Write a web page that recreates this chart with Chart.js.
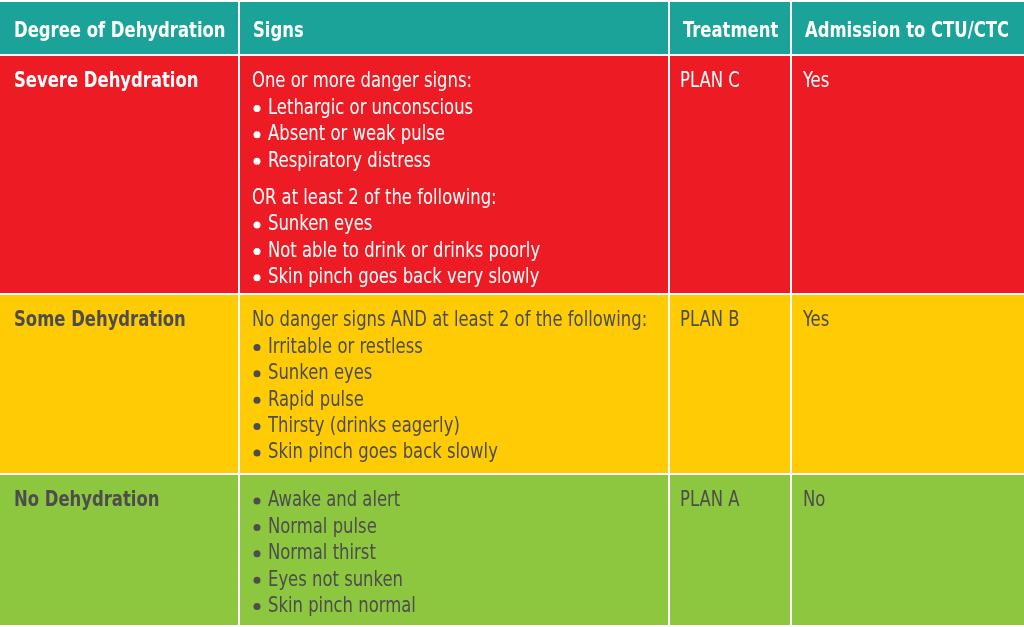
<!DOCTYPE html>
<html>
<head>
<meta charset="utf-8">
<script src="https://cdn.jsdelivr.net/npm/chart.js@4/dist/chart.umd.min.js"></script>
<style>
  html, body { margin: 0; padding: 0; background: #fff; }
  #wrap { width: 1024px; height: 627px; }
</style>
</head>
<body>
<div id="wrap"><canvas id="c" width="1024" height="627"></canvas></div>
<script>
// table content
const headers = ['Degree of Dehydration', 'Signs', 'Treatment', 'Admission to CTU/CTC'];
const degrees = ['Severe Dehydration', 'Some Dehydration', 'No Dehydration'];
const signs = [
  [['h', 'One or more danger signs:'], ['b', 'Lethargic or unconscious'], ['b', 'Absent or weak pulse'], ['b', 'Respiratory distress'],
   ['g', ''], ['h', 'OR at least 2 of the following:'], ['b', 'Sunken eyes'], ['b', 'Not able to drink or drinks poorly'], ['b', 'Skin pinch goes back very slowly']],
  [['h', 'No danger signs AND at least 2 of the following:'], ['b', 'Irritable or restless'], ['b', 'Sunken eyes'], ['b', 'Rapid pulse'],
   ['b', 'Thirsty (drinks eagerly)'], ['b', 'Skin pinch goes back slowly']],
  [['b', 'Awake and alert'], ['b', 'Normal pulse'], ['b', 'Normal thirst'], ['b', 'Eyes not sunken'], ['b', 'Skin pinch normal']]
];
const treatments = ['PLAN C', 'PLAN B', 'PLAN A'];
const admissions = ['Yes', 'Yes', 'No'];
const rowColors = ['#ed1c24', '#ffcb05', '#8dc63f'];
const rowTextColors = ['#ffffff', '#4d4d4d', '#4d4d4d'];
const headerColor = '#1ba39a';

// grid edges in table units
const colEdges = [0, 239, 669, 791, 1024];
const rowEdges = [2, 55, 294, 474, 626];

const FONT = "'Liberation Sans Narrow', 'DejaVu Sans Condensed', 'Roboto', sans-serif";
const SQUEEZE = 0.87;

function squeezedText(ctx, t, x, y) {
  ctx.save();
  ctx.translate(x, y);
  ctx.scale(SQUEEZE, 1);
  ctx.fillText(t, 0, 0);
  ctx.restore();
}

const tablePlugin = {
  id: 'table',
  afterDraw(chart) {
    const ctx = chart.ctx;
    const x = chart.scales.x, y = chart.scales.y;
    const px = v => x.getPixelForValue(v);
    const py = v => y.getPixelForValue(v);
    ctx.save();
    // cells
    for (let r = 0; r < rowEdges.length - 1; r++) {
      for (let c = 0; c < colEdges.length - 1; c++) {
        ctx.fillStyle = r === 0 ? headerColor : rowColors[r - 1];
        const x0 = px(colEdges[c]) + (c > 0 ? 1 : 0);
        const x1 = px(colEdges[c + 1]) - (c < colEdges.length - 2 ? 1 : 0);
        const y0 = py(rowEdges[r]) + (r > 0 ? 1 : 0);
        const y1 = py(rowEdges[r + 1]) - 1;
        ctx.fillRect(x0, y0, x1 - x0, y1 - y0);
      }
    }
    ctx.textBaseline = 'middle';
    // header
    ctx.fillStyle = '#fff';
    ctx.font = 'bold 21px ' + FONT;
    headers.forEach((h, c) => squeezedText(ctx, h, px(colEdges[c] + 14), py(32)));
    // rows
    const step = 26.4;
    degrees.forEach((d, r) => {
      const top = rowEdges[r + 1] + 27;
      ctx.fillStyle = rowTextColors[r];
      ctx.font = 'bold 21px ' + FONT;
      squeezedText(ctx, d, px(colEdges[0] + 14), py(top));
      ctx.font = '21px ' + FONT;
      squeezedText(ctx, treatments[r], px(colEdges[2] + 11), py(top));
      squeezedText(ctx, admissions[r], px(colEdges[3] + 12), py(top));
      let yy = top;
      signs[r].forEach(([kind, t]) => {
        if (kind === 'g') { yy += 11; return; }
        if (kind === 'b') {
          ctx.beginPath();
          ctx.arc(px(colEdges[1] + 18), py(yy), 3.5, 0, Math.PI * 2);
          ctx.fill();
          squeezedText(ctx, t, px(colEdges[1] + 29), py(yy));
        } else {
          squeezedText(ctx, t, px(colEdges[1] + 13), py(yy));
        }
        yy += step;
      });
    });
    ctx.restore();
  }
};

new Chart(document.getElementById('c'), {
  type: 'scatter',
  data: { datasets: [{ data: [] }] },
  options: {
    responsive: false,
    animation: false,
    devicePixelRatio: 1,
    layout: { padding: 0 },
    plugins: { legend: { display: false }, tooltip: { enabled: false } },
    scales: {
      x: { type: 'linear', min: 0, max: 1024, display: false },
      y: { type: 'linear', min: 0, max: 627, reverse: true, display: false }
    }
  },
  plugins: [tablePlugin]
});
</script>
</body>
</html>
